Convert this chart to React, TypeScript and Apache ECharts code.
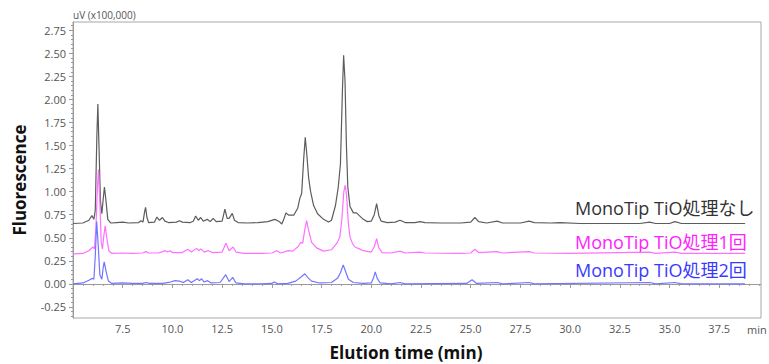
import React, { useEffect, useRef } from 'react';
import * as echarts from 'echarts';

// Chromatogram traces: [elution time (min), signal (x100,000 uV)]
const traceNone: [number, number][] = [
  [5.0, 0.655], [5.5, 0.66], [5.8, 0.69], [5.95, 0.74], [6.05, 0.70], [6.12, 0.80], [6.2, 1.6], [6.25, 1.95],
  [6.3, 1.55], [6.38, 0.90], [6.45, 0.76], [6.52, 0.92], [6.58, 1.05], [6.65, 0.92], [6.75, 0.70], [6.9, 0.66],
  [7.2, 0.665], [7.5, 0.67], [7.8, 0.66], [8.3, 0.665], [8.42, 0.685], [8.52, 0.67], [8.6, 0.78], [8.65, 0.83],
  [8.72, 0.72], [8.8, 0.665], [9.1, 0.67], [9.22, 0.725], [9.35, 0.69], [9.5, 0.72], [9.62, 0.68], [9.8, 0.665],
  [10.2, 0.67], [10.35, 0.685], [10.5, 0.67], [10.9, 0.665], [11.05, 0.68], [11.17, 0.735], [11.3, 0.69],
  [11.42, 0.72], [11.55, 0.68], [11.75, 0.70], [11.9, 0.675], [12.05, 0.71], [12.2, 0.675], [12.5, 0.68],
  [12.64, 0.81], [12.75, 0.71], [12.85, 0.71], [13.01, 0.765], [13.12, 0.69], [13.3, 0.665], [13.8, 0.66],
  [14.3, 0.665], [14.8, 0.675], [15.15, 0.70], [15.35, 0.68], [15.5, 0.65], [15.6, 0.70], [15.71, 0.77],
  [15.85, 0.745], [16.1, 0.745], [16.3, 0.82], [16.41, 0.93], [16.5, 0.98], [16.6, 1.35], [16.68, 1.59],
  [16.76, 1.40], [16.85, 1.15], [16.95, 1.0], [17.1, 0.85], [17.3, 0.76], [17.6, 0.70], [17.85, 0.67],
  [18.0, 0.69], [18.2, 0.85], [18.34, 1.05], [18.45, 1.30], [18.55, 2.1], [18.61, 2.48], [18.68, 2.2],
  [18.75, 1.5], [18.82, 1.05], [18.93, 0.84], [19.1, 0.77], [19.26, 0.77], [19.4, 0.74], [19.6, 0.70],
  [19.8, 0.675], [20.0, 0.68], [20.15, 0.75], [20.27, 0.87], [20.38, 0.74], [20.5, 0.68], [20.8, 0.665],
  [21.2, 0.67], [21.45, 0.69], [21.7, 0.665], [22.2, 0.665], [22.45, 0.675], [22.7, 0.665], [23.5, 0.66],
  [24.5, 0.66], [25.0, 0.67], [25.21, 0.72], [25.4, 0.675], [25.8, 0.66], [26.33, 0.68], [26.6, 0.66],
  [27.5, 0.66], [27.94, 0.68], [28.2, 0.665], [29.0, 0.66], [29.5, 0.665], [30.5, 0.655], [31.5, 0.655],
  [32.5, 0.655], [33.5, 0.655], [34.0, 0.67], [34.3, 0.655], [35.0, 0.655], [35.27, 0.675], [35.6, 0.655],
  [37.0, 0.655], [38.8, 0.655],
];

const traceOnce: [number, number][] = [
  [5.0, 0.325], [5.5, 0.33], [5.8, 0.36], [6.0, 0.40], [6.08, 0.38], [6.15, 0.6], [6.22, 1.0], [6.28, 1.24],
  [6.34, 0.95], [6.42, 0.45], [6.48, 0.38], [6.55, 0.52], [6.62, 0.63], [6.7, 0.50], [6.8, 0.36], [6.95, 0.33],
  [7.5, 0.335], [8.0, 0.33], [8.5, 0.335], [8.67, 0.35], [8.8, 0.335], [9.3, 0.335], [9.5, 0.35], [9.63, 0.36],
  [9.75, 0.345], [9.88, 0.36], [10.0, 0.34], [10.5, 0.34], [10.77, 0.375], [10.95, 0.345], [11.22, 0.385],
  [11.32, 0.36], [11.43, 0.38], [11.6, 0.345], [11.8, 0.36], [12.0, 0.34], [12.5, 0.345], [12.69, 0.44],
  [12.85, 0.36], [13.05, 0.40], [13.2, 0.345], [13.6, 0.33], [14.5, 0.33], [15.0, 0.335], [15.24, 0.36],
  [15.45, 0.335], [15.82, 0.36], [16.05, 0.355], [16.3, 0.40], [16.46, 0.45], [16.55, 0.44], [16.65, 0.58],
  [16.75, 0.685], [16.85, 0.58], [17.0, 0.45], [17.25, 0.39], [17.6, 0.355], [18.0, 0.37], [18.3, 0.45],
  [18.42, 0.51], [18.52, 0.70], [18.62, 1.0], [18.69, 1.07], [18.76, 0.95], [18.85, 0.65], [18.93, 0.51],
  [19.05, 0.44], [19.18, 0.40], [19.4, 0.38], [19.6, 0.36], [20.0, 0.345], [20.15, 0.40], [20.27, 0.49],
  [20.38, 0.39], [20.55, 0.34], [21.0, 0.335], [21.45, 0.355], [21.7, 0.335], [22.45, 0.345], [22.7, 0.335],
  [24.5, 0.33], [25.0, 0.335], [25.21, 0.375], [25.4, 0.34], [26.33, 0.35], [26.6, 0.335], [27.94, 0.35],
  [28.2, 0.335], [30.0, 0.33], [34.0, 0.345], [34.3, 0.33], [35.27, 0.345], [35.6, 0.33], [38.8, 0.33],
];

const traceTwice: [number, number][] = [
  [5.0, 0.0], [5.5, 0.01], [5.8, 0.04], [5.97, 0.06], [6.05, 0.05], [6.12, 0.3], [6.19, 0.675], [6.26, 0.45],
  [6.35, 0.10], [6.45, 0.05], [6.52, 0.18], [6.57, 0.24], [6.65, 0.15], [6.78, 0.03], [6.95, 0.005], [7.5, 0.01],
  [8.0, 0.005], [8.5, 0.005], [8.67, 0.015], [8.85, 0.005], [9.5, 0.005], [9.9, 0.02], [10.13, 0.035],
  [10.35, 0.03], [10.55, 0.015], [10.77, 0.045], [10.95, 0.015], [11.25, 0.055], [11.35, 0.035], [11.47, 0.055],
  [11.6, 0.02], [11.77, 0.035], [11.95, 0.01], [12.4, 0.015], [12.68, 0.10], [12.85, 0.025], [13.03, 0.07],
  [13.2, 0.01], [13.6, 0.0], [14.5, 0.0], [15.0, 0.005], [15.12, 0.02], [15.3, 0.0], [15.8, 0.005], [16.2, 0.03],
  [16.5, 0.08], [16.66, 0.11], [16.8, 0.07], [17.0, 0.03], [17.4, 0.01], [18.0, 0.015], [18.3, 0.06],
  [18.45, 0.12], [18.59, 0.205], [18.7, 0.14], [18.85, 0.05], [19.1, 0.015], [19.6, 0.005], [20.0, 0.01],
  [20.12, 0.07], [20.2, 0.13], [20.3, 0.06], [20.45, 0.01], [21.0, 0.0], [21.45, 0.015], [21.7, 0.0],
  [24.8, 0.005], [25.07, 0.045], [25.3, 0.005], [26.33, 0.015], [26.6, 0.0], [27.94, 0.015], [28.2, 0.0],
  [34.0, 0.015], [34.3, 0.0], [35.27, 0.015], [35.6, 0.0], [38.8, 0.0],
];

const seriesNames = ['MonoTip TiO処理なし', 'MonoTip TiO処理1回', 'MonoTip TiO処理2回'];

const xLabelValues = [7.5, 10.0, 12.5, 15.0, 17.5, 20.0, 22.5, 25.0, 27.5, 30.0, 32.5, 35.0, 37.5];
const yLabelValues = [-0.25, 0, 0.25, 0.5, 0.75, 1.0, 1.25, 1.5, 1.75, 2.0, 2.25, 2.5, 2.75];

const X_MIN = 5;
const X_MAX = 39.6;
const Y_MIN = -0.37;
const Y_MAX = 2.84;

const FONT = "'Open Sans', 'Noto Sans CJK JP', sans-serif";

export default function App() {
  const ref = useRef<HTMLDivElement>(null);

  useEffect(() => {
    if (!ref.current) return;
    const chart = echarts.init(ref.current, null, { renderer: 'svg' });

    const xMinor: number[] = [];
    for (let v = 5; v <= 39.5 + 1e-9; v += 0.5) xMinor.push(Math.round(v * 10) / 10);
    const yMinor: number[] = [];
    for (let k = -7; k <= 56; k++) yMinor.push(Math.round(k * 5) / 100);

    const axisGray = '#9a9a9a';
    const labelStyle = { color: '#555', fontSize: 11, fontFamily: FONT };

    chart.setOption({
      animation: false,
      grid: {
        left: 73, right: 8, top: 22, bottom: 46,
        show: true, borderColor: '#a8a8a8', borderWidth: 1, backgroundColor: 'transparent',
      },
      xAxis: [
        {
          type: 'value', min: X_MIN, max: X_MAX,
          axisLine: { show: true, lineStyle: { color: axisGray } },
          axisTick: { show: true, length: 4, lineStyle: { color: axisGray }, customValues: [5, ...xLabelValues] },
          axisLabel: {
            ...labelStyle, margin: 5, customValues: xLabelValues,
            formatter: (v: number) => v.toFixed(1),
          },
          splitLine: { show: false },
        },
        {
          type: 'value', min: X_MIN, max: X_MAX, position: 'bottom',
          axisLine: { show: false },
          axisTick: { show: true, length: 2, lineStyle: { color: axisGray }, customValues: xMinor },
          axisLabel: { show: false },
          splitLine: { show: false },
        },
      ],
      yAxis: [
        {
          type: 'value', min: Y_MIN, max: Y_MAX,
          axisLine: { show: true, lineStyle: { color: axisGray } },
          axisTick: { show: true, length: 4, lineStyle: { color: axisGray }, customValues: yLabelValues },
          axisLabel: {
            ...labelStyle, margin: 7, customValues: yLabelValues,
            formatter: (v: number) => v.toFixed(2),
          },
          splitLine: { show: false },
        },
        {
          type: 'value', min: Y_MIN, max: Y_MAX, position: 'left', offset: 0,
          axisLine: { show: false },
          axisTick: { show: true, length: 2, lineStyle: { color: axisGray }, customValues: yMinor },
          axisLabel: { show: false },
          splitLine: { show: false },
        },
      ],
      series: [
        {
          name: seriesNames[0], type: 'line', data: traceNone, showSymbol: false, symbol: 'none',
          lineStyle: { color: '#5c5c5c', width: 1.2 }, z: 2,
        },
        {
          name: seriesNames[1], type: 'line', data: traceOnce, showSymbol: false, symbol: 'none',
          lineStyle: { color: '#ff70ff', width: 1.2 }, z: 3,
        },
        {
          name: seriesNames[2], type: 'line', data: traceTwice, showSymbol: false, symbol: 'none',
          lineStyle: { color: '#7474ff', width: 1.2 }, z: 4,
        },
      ],
      graphic: [
        {
          type: 'text', x: 73, y: 15,
          style: { text: 'uV (x100,000)', fontSize: 10, fill: '#555', fontFamily: FONT, align: 'left', verticalAlign: 'middle' },
        },
        {
          type: 'text', x: 747, y: 329,
          style: { text: 'min', fontSize: 11, fill: '#555', fontFamily: FONT, align: 'left', verticalAlign: 'middle' },
        },
        {
          type: 'text', x: 19, y: 180, rotation: Math.PI / 2,
          style: { text: 'Fluorescence', fontSize: 17, fontWeight: 'bold', fill: '#111', fontFamily: FONT, align: 'center', verticalAlign: 'middle' },
        },
        {
          type: 'text', x: 406, y: 352,
          style: { text: 'Elution time (min)', fontSize: 17, fontWeight: 'bold', fill: '#111', fontFamily: FONT, align: 'center', verticalAlign: 'middle' },
        },
        {
          type: 'text', x: 575, y: 208,
          style: { text: seriesNames[0], fontSize: 18, fill: '#333', fontFamily: FONT, align: 'left', verticalAlign: 'middle' },
        },
        {
          type: 'text', x: 575, y: 241.5,
          style: { text: seriesNames[1], fontSize: 18, fill: '#ff22ff', fontFamily: FONT, align: 'left', verticalAlign: 'middle' },
        },
        {
          type: 'text', x: 575, y: 270,
          style: { text: seriesNames[2], fontSize: 18, fill: '#3a3aff', fontFamily: FONT, align: 'left', verticalAlign: 'middle' },
        },
      ],
    });

    return () => chart.dispose();
  }, []);

  return <div ref={ref} style={{ position: 'absolute', left: 0, top: 0, width: 769, height: 364 }} />;
}
